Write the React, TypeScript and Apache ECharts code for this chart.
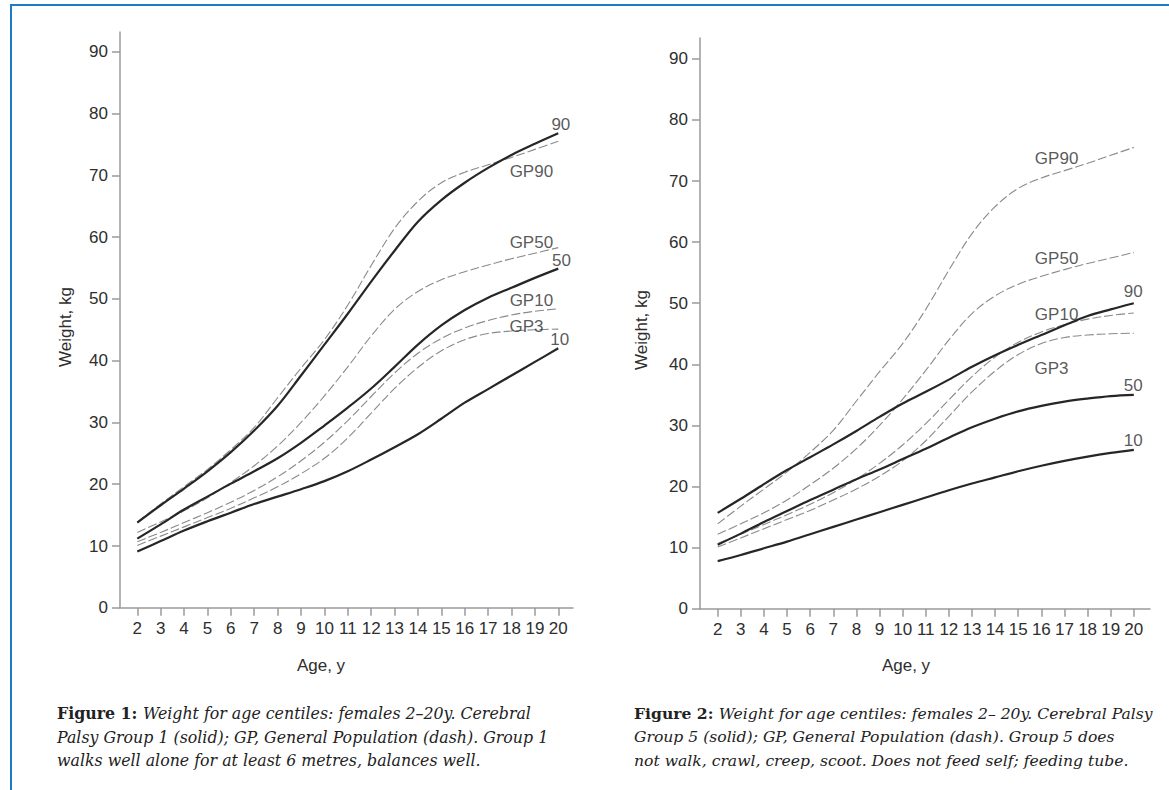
import React, { useEffect, useRef } from "react";
import * as echarts from "echarts";

// Ages (years)
const ages = [2, 3, 4, 5, 6, 7, 8, 9, 10, 11, 12, 13, 14, 15, 16, 17, 18, 19, 20];
const yTicks = [0, 10, 20, 30, 40, 50, 60, 70, 80, 90];

// Figure 1: Cerebral Palsy Group 1 centiles (solid)
const g1p90 = [13.8, 16.6, 19.3, 22.1, 25.2, 28.7, 32.7, 37.6, 42.6, 47.6, 52.8, 57.8, 62.5, 66.0, 68.8, 71.2, 73.3, 75.1, 76.8];
const g1p50 = [11.2, 13.5, 15.9, 18.0, 20.1, 22.1, 24.2, 26.7, 29.5, 32.4, 35.5, 39.0, 42.6, 45.7, 48.2, 50.2, 51.8, 53.4, 54.9];
const g1p10 = [9.1, 10.8, 12.5, 14.0, 15.4, 16.8, 18.0, 19.2, 20.5, 22.1, 24.0, 26.0, 28.1, 30.6, 33.2, 35.4, 37.6, 39.8, 42.0];

// Figure 2: Cerebral Palsy Group 5 centiles (solid)
const g5p90 = [15.7, 18.0, 20.4, 22.7, 24.8, 26.9, 29.1, 31.4, 33.6, 35.5, 37.5, 39.6, 41.5, 43.2, 44.8, 46.4, 47.9, 49.0, 50.0];
const g5p50 = [10.5, 12.3, 14.2, 16.0, 17.8, 19.5, 21.2, 22.8, 24.5, 26.2, 28.0, 29.7, 31.1, 32.3, 33.2, 33.9, 34.4, 34.8, 35.0];
const g5p10 = [7.8, 8.8, 9.9, 11.0, 12.2, 13.4, 14.6, 15.8, 17.0, 18.2, 19.4, 20.5, 21.5, 22.5, 23.4, 24.2, 24.9, 25.5, 26.0];

// General population centiles (dashed), same in both figures
const gp90 = [13.9, 16.8, 19.6, 22.4, 25.6, 29.2, 34.0, 38.8, 43.4, 49.0, 55.4, 61.4, 65.8, 68.8, 70.5, 71.7, 72.9, 74.2, 75.5];
const gp50 = [12.2, 13.9, 15.7, 17.8, 20.3, 23.0, 26.2, 30.0, 34.3, 39.0, 44.0, 48.3, 51.2, 53.1, 54.4, 55.5, 56.5, 57.4, 58.3];
const gp10 = [10.7, 12.2, 13.8, 15.4, 17.1, 19.0, 21.2, 23.8, 26.8, 30.3, 34.2, 38.0, 41.2, 43.6, 45.3, 46.5, 47.4, 48.0, 48.4];
const gp3 = [10.1, 11.6, 13.1, 14.6, 16.1, 17.8, 19.6, 21.7, 24.2, 27.5, 31.5, 35.5, 38.9, 41.6, 43.4, 44.4, 44.8, 45.0, 45.1];

// Curve labels: [text, age, weight]
const labels1: [string, number, number][] = [
  ["90", 20.11, 78.3],
  ["GP90", 18.85, 70.6],
  ["GP50", 18.85, 59.2],
  ["50", 20.14, 56.2],
  ["GP10", 18.85, 49.8],
  ["GP3", 18.64, 45.5],
  ["10", 20.06, 43.4],
];
const labels2: [string, number, number][] = [
  ["GP90", 16.66, 73.7],
  ["GP50", 16.66, 57.4],
  ["90", 19.97, 51.9],
  ["GP10", 16.66, 48.2],
  ["GP3", 16.44, 39.4],
  ["50", 19.97, 36.5],
  ["10", 19.97, 27.5],
];

const caption1 = [
  "Weight for age centiles: females 2–20y. Cerebral",
  "Palsy Group 1 (solid); GP, General Population (dash). Group 1",
  "walks well alone for at least 6 metres, balances well.",
];
const caption2 = [
  "Weight for age centiles: females 2– 20y. Cerebral Palsy",
  "Group 5 (solid); GP, General Population (dash). Group 5 does",
  "not walk, crawl, creep, scoot. Does not feed self; feeding tube.",
];

const SANS = "'Liberation Sans', Arial, Helvetica, sans-serif";
const SERIF = "'DejaVu Serif', 'Liberation Serif', serif";
const AXIS = "#9a9a9a";
const TEXT = "#2e2e2e";

function toPts(arr: number[]) {
  return ages.map((a, i) => [a, arr[i]]);
}

function solid(name: string, arr: number[], idx: number) {
  return {
    name,
    type: "line",
    xAxisIndex: idx,
    yAxisIndex: idx,
    data: toPts(arr),
    smooth: 0.35,
    symbol: "none",
    lineStyle: { color: "#262626", width: 2.2, type: "solid" },
    z: 3,
    silent: true,
  };
}
function dashed(name: string, arr: number[], idx: number) {
  return {
    name,
    type: "line",
    xAxisIndex: idx,
    yAxisIndex: idx,
    data: toPts(arr),
    smooth: 0.35,
    symbol: "none",
    lineStyle: { color: "#8a8a8a", width: 1.1, type: [9, 3] },
    z: 2,
    silent: true,
  };
}
function labelSeries(lbls: [string, number, number][], idx: number) {
  return {
    type: "scatter",
    xAxisIndex: idx,
    yAxisIndex: idx,
    symbolSize: 0,
    silent: true,
    z: 5,
    data: lbls.map(([t, x, y]) => ({ name: t, value: [x, y] })),
    label: {
      show: true,
      position: "inside",
      formatter: "{b}",
      fontFamily: SANS,
      fontSize: 17,
      color: TEXT,
    },
  };
}

function xAxis(idx: number, min: number, max: number) {
  return {
    type: "value",
    gridIndex: idx,
    min,
    max,
    axisLine: { show: true, onZero: false, lineStyle: { color: AXIS, width: 1.5 } },
    axisTick: { show: true, length: 8, customValues: ages, lineStyle: { color: AXIS, width: 1.5 } },
    axisLabel: { customValues: ages, margin: 12, fontFamily: SANS, fontSize: 17, color: TEXT },
    splitLine: { show: false },
  };
}
function yAxis(idx: number, max: number) {
  return {
    type: "value",
    gridIndex: idx,
    min: 0,
    max,
    axisLine: { show: true, onZero: false, lineStyle: { color: AXIS, width: 1.5 } },
    axisTick: { show: true, length: 8, customValues: yTicks, lineStyle: { color: AXIS, width: 1.5 } },
    axisLabel: { customValues: yTicks, margin: 12, fontFamily: SANS, fontSize: 17, color: TEXT },
    splitLine: { show: false },
  };
}

function caption(num: string, lines: string[], left: number, size: number) {
  return {
    type: "text",
    left,
    top: 702,
    style: {
      text: `{b|Figure ${num}: }` + lines.join("\n"),
      fontFamily: SERIF,
      fontStyle: "italic",
      fontSize: size,
      lineHeight: 23.5,
      fill: "#222",
      rich: {
        b: { fontFamily: SERIF, fontStyle: "normal", fontWeight: "bold", fontSize: size, lineHeight: 23.5, fill: "#222" },
      },
    },
  };
}

export default function App() {
  const ref = useRef<HTMLDivElement>(null);
  useEffect(() => {
    document.body.style.margin = "0";
    if (!ref.current) return;
    const chart = echarts.init(ref.current, undefined, { renderer: "svg" });
    chart.setOption({
      animation: false,
      backgroundColor: "#ffffff",
      grid: [
        { left: 120, top: 32, width: 453, height: 575.8 },
        { left: 700, top: 38, width: 450, height: 570.8 },
      ],
      xAxis: [xAxis(0, 1.26, 20.63), xAxis(1, 1.235, 20.7)],
      yAxis: [yAxis(0, 93.2), yAxis(1, 93.4)],
      series: [
        dashed("GP90", gp90, 0),
        dashed("GP50", gp50, 0),
        dashed("GP10", gp10, 0),
        dashed("GP3", gp3, 0),
        solid("90", g1p90, 0),
        solid("50", g1p50, 0),
        solid("10", g1p10, 0),
        labelSeries(labels1, 0),
        dashed("GP90", gp90, 1),
        dashed("GP50", gp50, 1),
        dashed("GP10", gp10, 1),
        dashed("GP3", gp3, 1),
        solid("90", g5p90, 1),
        solid("50", g5p50, 1),
        solid("10", g5p10, 1),
        labelSeries(labels2, 1),
      ],
      graphic: [
        { type: "line", shape: { x1: 10, y1: 5, x2: 1169, y2: 5 }, style: { stroke: "#1f7acb", lineWidth: 2 } },
        { type: "line", shape: { x1: 11, y1: 4, x2: 11, y2: 790 }, style: { stroke: "#1f7acb", lineWidth: 2 } },
        { type: "text", x: 321, y: 665, style: { text: "Age, y", fontFamily: SANS, fontSize: 17, fill: TEXT, align: "center", verticalAlign: "middle" } },
        { type: "text", x: 906, y: 665, style: { text: "Age, y", fontFamily: SANS, fontSize: 17, fill: TEXT, align: "center", verticalAlign: "middle" } },
        { type: "text", x: 65, y: 327, rotation: Math.PI / 2, style: { text: "Weight, kg", fontFamily: SANS, fontSize: 17, fill: TEXT, align: "center", verticalAlign: "middle" } },
        { type: "text", x: 641, y: 330, rotation: Math.PI / 2, style: { text: "Weight, kg", fontFamily: SANS, fontSize: 17, fill: TEXT, align: "center", verticalAlign: "middle" } },
        caption("1", caption1, 57, 15.8),
        caption("2", caption2, 634, 15.6),
      ],
    });
    return () => chart.dispose();
  }, []);
  return <div ref={ref} style={{ width: 1169, height: 790 }} />;
}
